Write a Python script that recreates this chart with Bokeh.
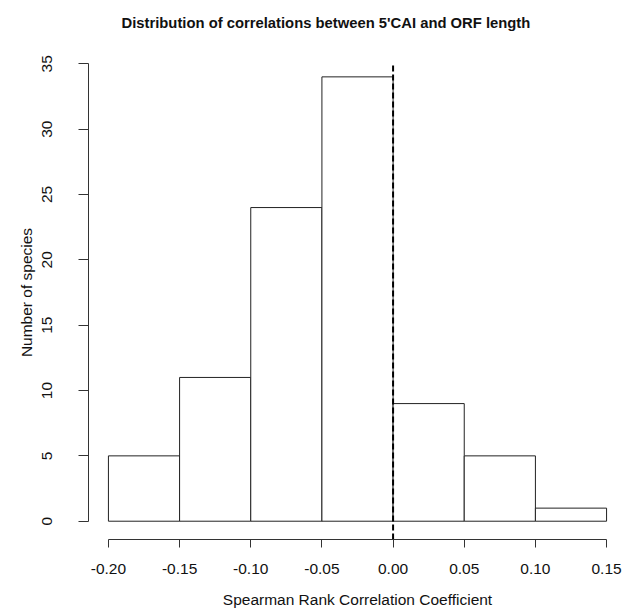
from bokeh.plotting import figure
from bokeh.models import FixedTicker, Range1d, Title
from bokeh.embed import file_html
from bokeh.resources import INLINE

# ---- data ----
bin_left = [-0.20, -0.15, -0.10, -0.05, 0.00, 0.05, 0.10]
bin_right = [-0.15, -0.10, -0.05, 0.00, 0.05, 0.10, 0.15]
counts = [5, 11, 24, 34, 9, 5, 1]
x_ticks = [-0.20, -0.15, -0.10, -0.05, 0.00, 0.05, 0.10, 0.15]
x_tick_labels = ["-0.20", "-0.15", "-0.10", "-0.05", "0.00", "0.05", "0.10", "0.15"]
y_ticks = [0, 5, 10, 15, 20, 25, 30, 35]
ref_x = 0.0

FONT = "Liberation Sans"
AXIS_COLOR = "#333333"

p = figure(width=630, height=613,
           x_range=Range1d(-0.214, 0.164), y_range=Range1d(-1.4, 36.4),
           output_backend="svg", toolbar_location=None,
           min_border_left=88, min_border_right=4,
           min_border_top=45, min_border_bottom=74)

p.title = Title(text="Distribution of correlations between 5'CAI and ORF length",
                align="left", vertical_align="top", text_font=FONT, text_font_size="14.8px",
                text_font_style="bold", text_color="#111111", standoff=26, offset=33)

p.quad(left=bin_left, right=bin_right, bottom=[0] * len(counts), top=counts,
       fill_color="white", line_color="#222222", line_width=1)

p.segment(x0=[ref_x], y0=[p.y_range.start], x1=[ref_x], y1=[max(y_ticks)],
          line_color="black", line_width=2, line_dash="6 3")

p.xgrid.visible = False
p.ygrid.visible = False
p.outline_line_color = None

xa = p.xaxis[0]
xa.ticker = FixedTicker(ticks=x_ticks)
xa.major_label_overrides = {t: l for t, l in zip(x_ticks, x_tick_labels)}
xa.bounds = (min(x_ticks), max(x_ticks))
xa.axis_label = "Spearman Rank Correlation Coefficient"

ya = p.yaxis[0]
ya.ticker = FixedTicker(ticks=y_ticks)
ya.bounds = (min(y_ticks), max(y_ticks))
ya.axis_label = "Number of species"
ya.major_label_orientation = "vertical"

for ax in (xa, ya):
    ax.axis_line_color = AXIS_COLOR
    ax.major_tick_line_color = AXIS_COLOR
    ax.minor_tick_line_color = None
    ax.major_tick_in = 0
    ax.major_label_text_font = FONT
    ax.major_label_text_font_size = "15.5px"
    ax.major_label_text_color = "#111111"
    ax.axis_label_text_font = FONT
    ax.axis_label_text_font_size = "15.5px"
    ax.axis_label_text_font_style = "normal"
    ax.axis_label_text_color = "#111111"

xa.major_tick_out = 8
xa.major_label_standoff = 16
xa.axis_label_standoff = 14
ya.major_tick_out = 10
ya.major_label_standoff = 26
ya.axis_label_standoff = 5

open("out.html", "w").write(file_html(p, INLINE))
